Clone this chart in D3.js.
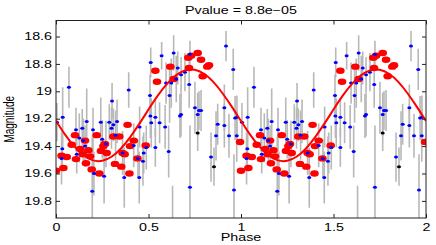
<!DOCTYPE html>
<html>
<head>
<meta charset="utf-8">
<script src="https://cdn.jsdelivr.net/npm/d3@7"></script>
<style>
  body { margin: 0; background: #fff; }
  svg text { font-family: "Liberation Sans", Arial, Helvetica, sans-serif; font-size: 10px; fill: #000; }
</style>
</head>
<body>
<svg id="chart" width="436" height="245"></svg>
<script>
// folded light curve, phase 0..1 (drawn twice: 0-1 and 1-2)
const bluePhase = [0.005, 0.036, 0.07, 0.034, 0.03, 0.108, 0.126, 0.142, 0.148, 0.166, 0.157, 0.112, 0.196, 0.20, 0.242,
  0.25, 0.27, 0.26, 0.205, 0.288, 0.31, 0.30, 0.322, 0.303, 0.33, 0.393, 0.452, 0.51, 0.537, 0.515,
  0.56, 0.59, 0.609, 0.537, 0.488, 0.474, 0.47, 0.42, 0.443, 0.45, 0.369, 0.36, 0.512, 0.571, 0.636,
  0.658, 0.595, 0.623, 0.614, 0.508, 0.676, 0.697, 0.72, 0.724, 0.919, 0.958, 0.676, 0.751, 0.773, 0.784,
  0.766, 0.91, 0.978, 0.65, 0.67, 0.874, 0.91, 0.865, 0.935, 0.977, 0.968, 0.838, 0.724, 0.962, 0.63];
const blueMag = [19.225, 19.19, 18.97, 19.42, 19.49, 19.28, 19.34, 19.27, 19.36, 19.22, 19.40, 19.46, 19.73, 19.28, 19.225,
  19.35, 19.385, 19.62, 19.60, 19.225, 19.245, 19.27, 19.32, 19.07, 19.22, 18.99, 19.26, 19.18, 19.19, 19.23,
  19.23, 19.26, 19.44, 19.41, 19.41, 19.45, 19.51, 19.395, 19.49, 19.63, 19.63, 19.45, 18.79, 18.74, 18.72,
  18.83, 18.94, 18.94, 19.03, 19.03, 18.88, 18.86, 18.95, 18.73, 18.67, 18.84, 19.17, 19.12, 19.14, 19.14,
  19.17, 19.12, 19.19, 18.91, 19.18, 19.24, 19.25, 19.325, 19.325, 19.325, 19.195, 19.48, 19.70, 19.72, 19.99];
const blueErr = [0.14, 0.22, 0.15, 0.16, 0.19, 0.16, 0.18, 0.14, 0.16, 0.24, 0.15, 0.14, 0.40, 0.16, 0.18,
  0.14, 0.17, 0.20, 0.16, 0.13, 0.12, 0.15, 0.18, 0.13, 0.16, 0.13, 0.15, 0.16, 0.14, 0.18,
  0.15, 0.16, 0.19, 0.14, 0.16, 0.15, 0.18, 0.16, 0.14, 0.19, 0.22, 0.16, 0.11, 0.10, 0.13,
  0.12, 0.15, 0.18, 0.20, 0.15, 0.13, 0.14, 0.17, 0.10, 0.11, 0.15, 0.16, 0.19, 0.14, 0.15,
  0.16, 0.17, 0.16, 0.17, 0.16, 0.15, 0.16, 0.18, 0.16, 0.19, 0.16, 0.18, 0.45, 0.26, 0.30];

const blackPhase = [0.766, 0.854];
const blackMag = [19.305, 19.55];
const blackErr = [0.13, 0.14];

const redPhase = [0.0, 0.04, 0.03, 0.058, 0.085, 0.103, 0.108, 0.13, 0.144, 0.157, 0.162, 0.175, 0.184, 0.193, 0.22,
  0.234, 0.243, 0.256, 0.265, 0.274, 0.319, 0.387, 0.31, 0.342, 0.397, 0.44, 0.485, 0.40, 0.36, 0.42,
  0.353, 0.371, 0.537, 0.546, 0.618, 0.636, 0.715, 0.73, 0.766, 0.784, 0.818, 0.719, 0.793, 0.827, 0.995];
const redMag = [19.58, 19.56, 19.47, 19.48, 19.39, 19.32, 19.495, 19.42, 19.46, 19.36, 19.525, 19.43, 19.475, 19.57, 19.32,
  19.60, 19.435, 19.40, 19.385, 19.45, 19.53, 19.245, 19.33, 19.33, 19.60, 19.49, 19.395, 19.40, 19.45, 19.36,
  19.55, 19.46, 18.85, 18.93, 18.82, 18.91, 18.755, 18.74, 18.72, 18.77, 18.82, 18.83, 18.89, 18.81, 19.37];

const curvePhase = [0, 0.05, 0.1, 0.15, 0.2, 0.25, 0.3, 0.35, 0.4, 0.45, 0.5, 0.55, 0.6, 0.65, 0.7, 0.75, 0.8, 0.85, 0.9, 0.95, 1.0];
const curveMag = [19.217, 19.318, 19.404, 19.468, 19.504, 19.507, 19.478, 19.419, 19.336, 19.238, 19.133, 19.032, 18.946,
  18.882, 18.846, 18.843, 18.872, 18.931, 19.014, 19.112, 19.217];

const xTicks = [0, 0.5, 1, 1.5, 2];
const yTicks = [18.6, 18.8, 19, 19.2, 19.4, 19.6, 19.8];
const title = 'Pvalue = 8.8e\u221205';
const shifts = [0, 1];

const L = 56, R = 426, T = 20.5, B = 218;
const SX = 1.43; // text is a bit wide in the source

const x = d3.scaleLinear().domain([0, 2]).range([L, R]);
const y = d3.scaleLinear().domain([18.483, 19.925]).range([T, B]);

const svg = d3.select('#chart');

svg.append('defs').append('clipPath').attr('id', 'clip')
  .append('rect').attr('x', L).attr('y', T).attr('width', R - L).attr('height', B - T);

const blue = bluePhase.map((p, i) => ({ p, m: blueMag[i], e: blueErr[i] }));
const black = blackPhase.map((p, i) => ({ p, m: blackMag[i], e: blackErr[i] }));
const red = redPhase.map((p, i) => ({ p, m: redMag[i] }));
const curve = curvePhase.map((p, i) => ({ p, m: curveMag[i] }));

const unfold = arr => shifts.flatMap(s => arr.map(d => ({ ...d, p: d.p + s })));

const plot = svg.append('g').attr('clip-path', 'url(#clip)');

plot.append('g')
  .selectAll('line')
  .data(unfold(blue.concat(black)))
  .join('line')
  .attr('x1', d => x(d.p)).attr('x2', d => x(d.p))
  .attr('y1', d => y(d.m - d.e)).attr('y2', d => y(d.m + d.e))
  .attr('stroke', '#b8b8b8')
  .attr('stroke-width', 1.6);

plot.append('g')
  .selectAll('ellipse')
  .data(unfold(red))
  .join('ellipse')
  .attr('cx', d => x(d.p)).attr('cy', d => y(d.m))
  .attr('rx', 4.3).attr('ry', 3.2)
  .attr('fill', '#ff0000');

plot.append('g')
  .selectAll('ellipse')
  .data(unfold(blue))
  .join('ellipse')
  .attr('cx', d => x(d.p)).attr('cy', d => y(d.m))
  .attr('rx', 2).attr('ry', 1.5)
  .attr('fill', '#0000ff');

plot.append('g')
  .selectAll('ellipse')
  .data(unfold(black))
  .join('ellipse')
  .attr('cx', d => x(d.p)).attr('cy', d => y(d.m))
  .attr('rx', 2).attr('ry', 1.5)
  .attr('fill', '#000');

const curvePts = shifts.flatMap(s => curve.filter((d, i) => s === 0 || i > 0).map(d => ({ p: d.p + s, m: d.m })));
plot.append('path')
  .datum(curvePts)
  .attr('fill', 'none')
  .attr('stroke', '#ff0000')
  .attr('stroke-width', 2)
  .attr('d', d3.line().x(d => x(d.p)).y(d => y(d.m)).curve(d3.curveNatural));

// axes, ticks pointing inward on all four sides
const left = svg.append('g').attr('transform', `translate(${L},0)`)
  .call(d3.axisLeft(y).tickValues(yTicks).tickFormat(d3.format('')).tickSizeInner(-4).tickSizeOuter(0));
left.selectAll('text').attr('x', 0).attr('transform', `translate(-4,0) scale(${SX},1)`);

const bottom = svg.append('g').attr('transform', `translate(0,${B})`)
  .call(d3.axisBottom(x).tickValues(xTicks).tickFormat(d3.format('')).tickSizeInner(-4).tickSizeOuter(0));
bottom.selectAll('text').attr('y', 0).attr('dy', 0).attr('transform', `translate(0,13) scale(${SX},1)`);

svg.append('g').attr('transform', `translate(${R},0)`)
  .call(d3.axisRight(y).tickValues(yTicks).tickFormat('').tickSizeInner(-4).tickSizeOuter(0));
svg.append('g').attr('transform', `translate(0,${T})`)
  .call(d3.axisTop(x).tickValues(xTicks).tickFormat('').tickSizeInner(-4).tickSizeOuter(0));

svg.selectAll('.domain').remove();
svg.selectAll('.tick line').attr('stroke', '#222');
svg.selectAll('.tick text').attr('font-size', 10).attr('font-family', null);

svg.append('rect')
  .attr('x', L).attr('y', T).attr('width', R - L).attr('height', B - T)
  .attr('fill', 'none').attr('stroke', '#222').attr('stroke-width', 1);

svg.append('text')
  .attr('text-anchor', 'middle')
  .attr('transform', `translate(${(L + R) / 2},14.3) scale(${SX},1)`)
  .text(title);

svg.append('text')
  .attr('text-anchor', 'middle')
  .attr('transform', `translate(14,${(T + B) / 2}) scale(${SX},1) rotate(-90)`)
  .text('Magnitude');

svg.append('text')
  .attr('text-anchor', 'middle')
  .attr('transform', `translate(${(L + R) / 2},241) scale(${SX},1)`)
  .text('Phase');
</script>
</body>
</html>
